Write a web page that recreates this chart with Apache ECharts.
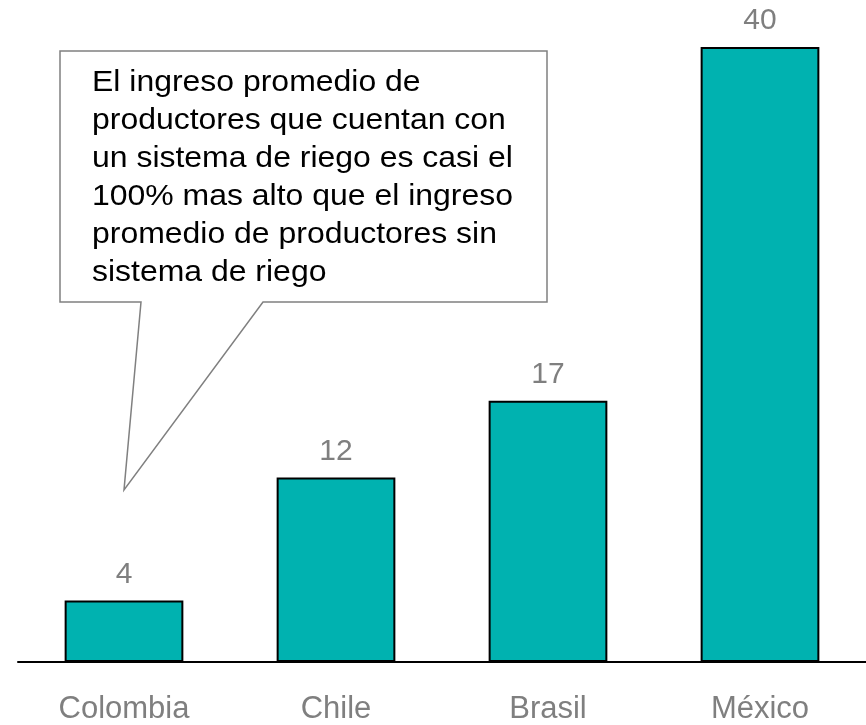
<!DOCTYPE html>
<html>
<head>
<meta charset="utf-8">
<script src="https://cdn.jsdelivr.net/npm/echarts@6/dist/echarts.min.js"></script>
<style>
html,body{margin:0;padding:0;background:#fff;}
#chart{width:866px;height:725px;}
</style>
</head>
<body>
<div id="chart"></div>
<script>
const categories = ['Colombia', 'Chile', 'Brasil', 'México'];
const values = [4, 12, 17, 40];
const calloutLines = [
  'El ingreso promedio de',
  'productores que cuentan con',
  'un sistema de riego es casi el',
  '100% mas alto que el ingreso',
  'promedio de productores sin',
  'sistema de riego'
];

const chart = echarts.init(document.getElementById('chart'));
const font = '"Liberation Sans", Arial, sans-serif';
chart.setOption({
  animation: false,
  backgroundColor: '#ffffff',
  grid: { left: 18, right: 0, top: 47, bottom: 62, containLabel: false },
  xAxis: {
    type: 'category',
    data: categories,
    axisLine: { show: true, lineStyle: { color: '#000000', width: 2 } },
    axisTick: { show: false },
    axisLabel: { color: '#7f7f7f', fontSize: 31, fontFamily: font, margin: 32 }
  },
  yAxis: {
    type: 'value',
    min: 0,
    max: 40,
    show: false,
    splitLine: { show: false }
  },
  series: [{
    type: 'bar',
    data: values,
    barWidth: '56%',
    itemStyle: { color: '#00b2b0', borderColor: '#000000', borderWidth: 2 },
    label: {
      show: true,
      position: 'top',
      distance: 11,
      color: '#7f7f7f',
      fontSize: 30,
      fontFamily: font
    }
  }],
  graphic: [
    {
      type: 'polygon',
      z: 100,
      shape: {
        points: [[60, 51], [547, 51], [547, 302], [263, 302], [124, 490], [141, 302], [60, 302]]
      },
      style: { fill: '#ffffff', stroke: '#808080', lineWidth: 1.5 }
    },
    {
      type: 'text',
      z: 101,
      left: 92,
      top: 64,
      scaleX: 1.065,
      style: {
        text: calloutLines.join('\n'),
        fill: '#000000',
        fontSize: 30,
        lineHeight: 38,
        fontFamily: font
      }
    }
  ]
});
</script>
</body>
</html>
